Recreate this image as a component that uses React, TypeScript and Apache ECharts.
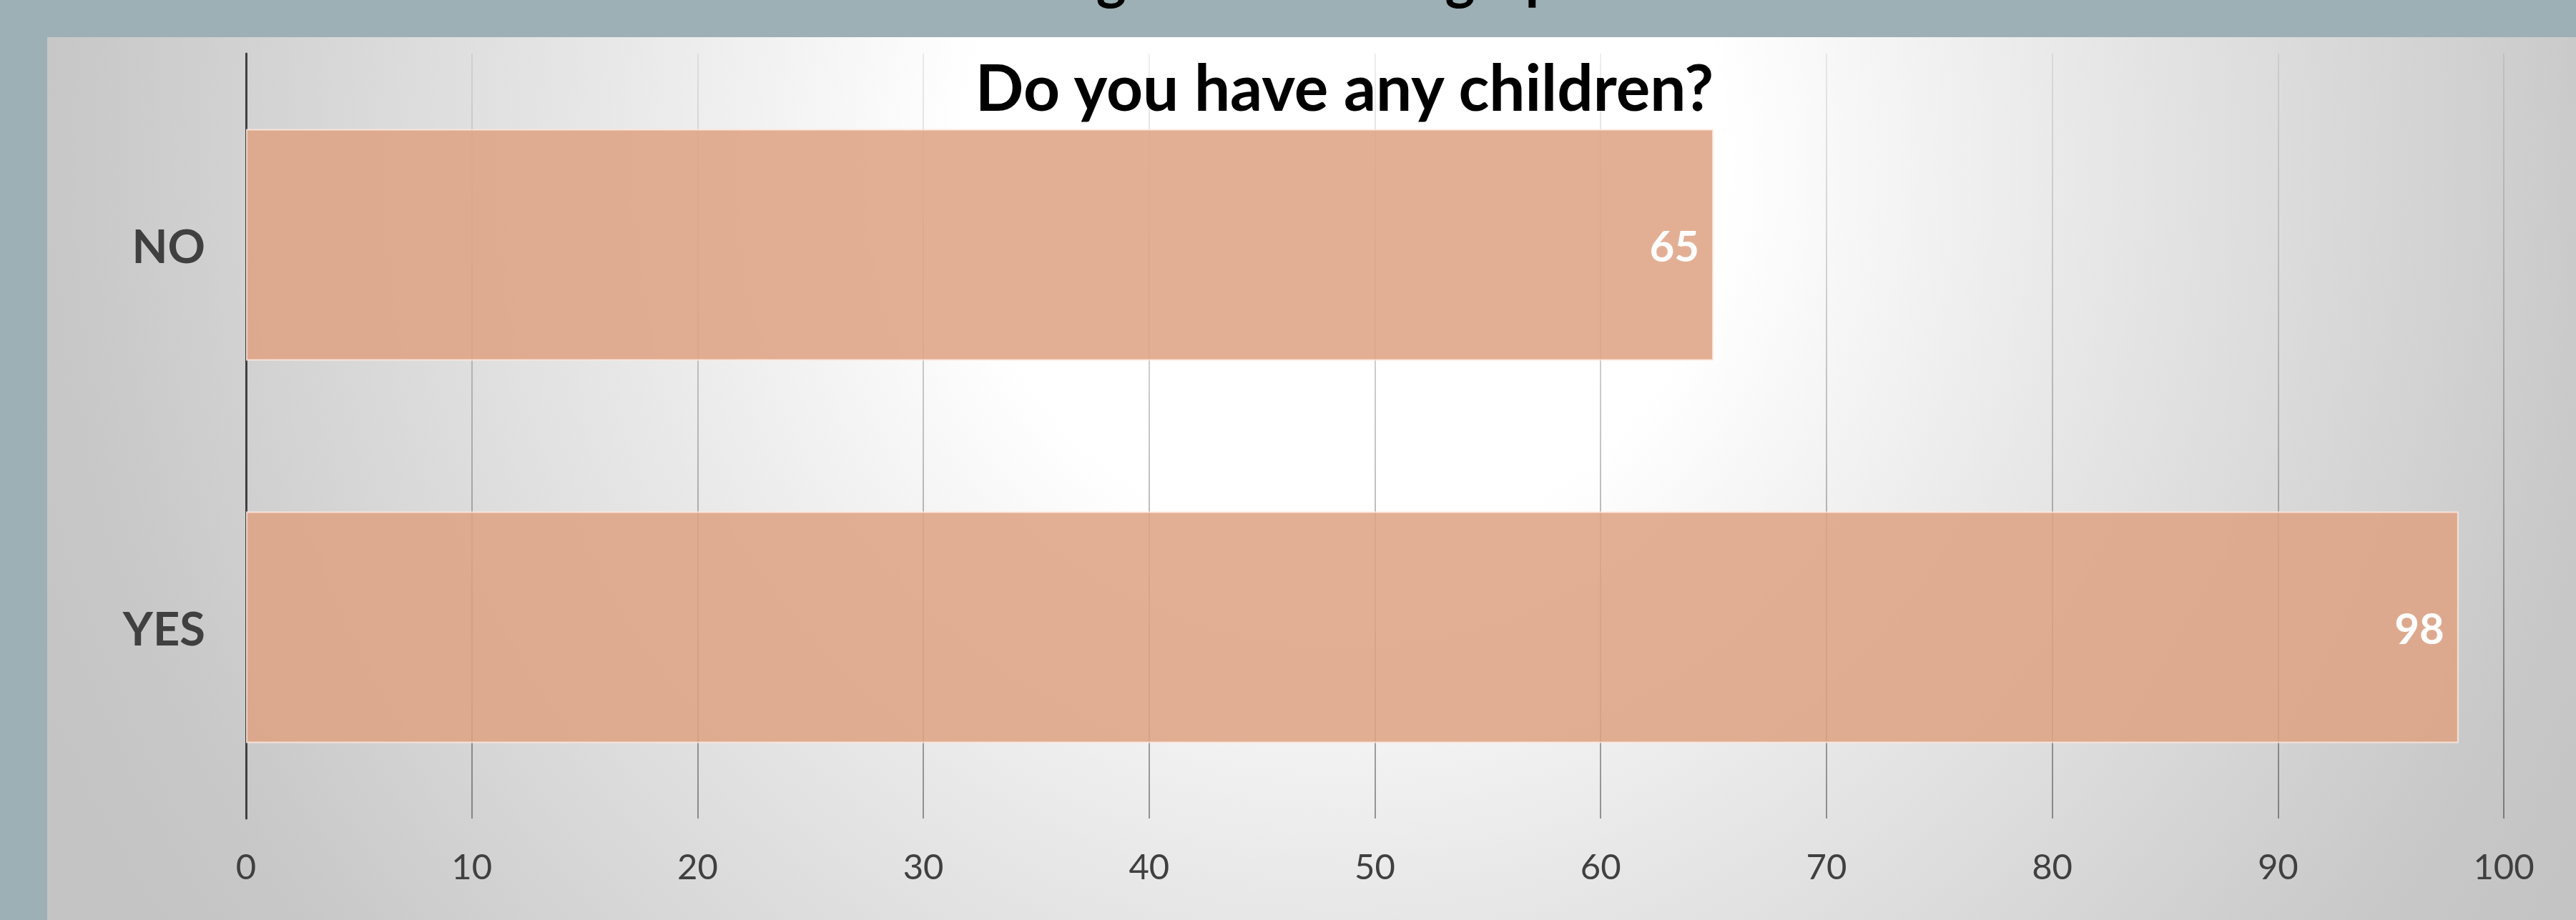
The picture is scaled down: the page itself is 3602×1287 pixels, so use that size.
import React, { useEffect, useRef } from "react";
import * as echarts from "echarts";

const categories: string[] = ["NO", "YES"];
const values: number[] = [65, 98];
const xMin = 0;
const xMax = 100;
const xInterval = 10;
const titleText = "Do you have any children?";
const headerText = "Background Demographics";

export default function App() {
  const ref = useRef<HTMLDivElement>(null);

  useEffect(() => {
    if (!ref.current) return;
    const chart = echarts.init(ref.current, null, { renderer: "svg", width: 3602, height: 1287 });
    const panelFill = new echarts.graphic.RadialGradient(
      1880,
      230,
      1980,
      [
        { offset: 0, color: "#ffffff" },
        { offset: 0.27, color: "#ffffff" },
        { offset: 0.52, color: "#e8e8e8" },
        { offset: 0.9, color: "#c8c8c8" },
        { offset: 1, color: "#c4c4c4" },
      ],
      true
    );
    const gridColor = new echarts.graphic.LinearGradient(
      0,
      75,
      0,
      1145,
      [
        { offset: 0, color: "rgba(0,0,0,0.07)" },
        { offset: 1, color: "rgba(0,0,0,0.38)" },
      ],
      true
    );
    chart.setOption({
      animation: false,
      backgroundColor: "#9DB0B5",
      textStyle: { fontFamily: "Lato" },
      graphic: [
        {
          type: "rect",
          z: -10,
          silent: true,
          shape: { x: 66, y: 52, width: 3536, height: 1235 },
          style: { fill: panelFill },
        },
        {
          type: "text",
          z: 10,
          silent: true,
          style: {
            text: headerText,
            x: 1838,
            y: -34,
            textAlign: "center",
            textVerticalAlign: "middle",
            fontSize: 80,
            fontWeight: "bold",
            fontFamily: "Lato",
            fill: "#000000",
          },
        },
        {
          type: "text",
          z: 10,
          silent: true,
          style: {
            text: titleText,
            x: 1880,
            y: 120,
            textAlign: "center",
            textVerticalAlign: "middle",
            fontSize: 89,
            fontWeight: "bold",
            fontFamily: "Lato",
            fill: "#000000",
          },
        },
      ],
      grid: { left: 344, right: 101, top: 75, bottom: 142, containLabel: false },
      xAxis: {
        type: "value",
        min: xMin,
        max: xMax,
        interval: xInterval,
        axisLine: { show: false },
        axisTick: { show: false },
        axisLabel: { color: "#404040", fontSize: 49, fontFamily: "Lato", margin: 41 },
        splitLine: { show: true, lineStyle: { width: 2, color: gridColor } },
      },
      yAxis: {
        type: "category",
        data: categories,
        inverse: true,
        axisLine: { show: true, lineStyle: { color: "#404040", width: 3 } },
        axisTick: { show: false },
        axisLabel: {
          color: "#404040",
          fontSize: 65,
          fontWeight: "bold",
          fontFamily: "Lato",
          margin: 57,
          padding: [0, 0, 24, 0],
        },
        splitLine: { show: false },
      },
      series: [
        {
          type: "bar",
          data: values,
          barCategoryGap: "39.4%",
          itemStyle: {
            color: "rgba(223,163,132,0.87)",
            borderColor: "rgba(255,235,225,0.8)",
            borderWidth: 2,
          },
          label: {
            show: true,
            position: "insideRight",
            distance: 20,
            color: "#ffffff",
            fontSize: 60,
            fontWeight: "bold",
            fontFamily: "Lato",
          },
        },
      ],
    });
    return () => chart.dispose();
  }, []);

  return (
    <div
      ref={ref}
      style={{ position: "absolute", left: 0, top: 0, width: 3602, height: 1287 }}
    />
  );
}
